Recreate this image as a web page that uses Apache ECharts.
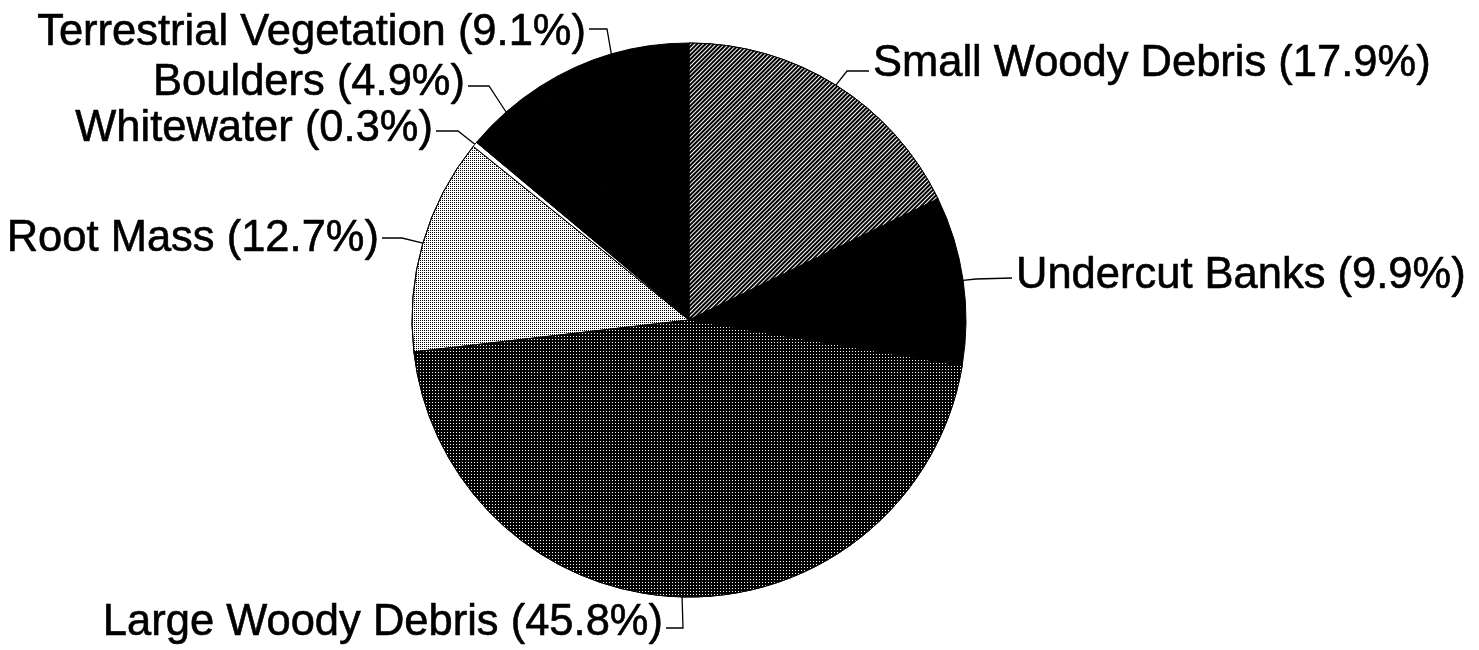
<!DOCTYPE html>
<html>
<head>
<meta charset="utf-8">
<script src="https://cdn.jsdelivr.net/npm/echarts@6/dist/echarts.min.js"></script>
<style>
html,body{margin:0;padding:0;background:#fff;}
#chart{width:1479px;height:650px;}
</style>
</head>
<body>
<div id="chart"></div>
<script>
// ---- data ----
var categories = ['Small Woody Debris', 'Undercut Banks', 'Large Woody Debris', 'Root Mass', 'Whitewater', 'Boulders', 'Terrestrial Vegetation'];
var percents = [17.9, 9.9, 45.8, 12.7, 0.3, 4.9, 9.1];
var labelTexts = ['Small Woody Debris (17.9%)', 'Undercut Banks (9.9%)', 'Large Woody Debris (45.8%)', 'Root Mass (12.7%)', 'Whitewater (0.3%)', 'Boulders (4.9%)', 'Terrestrial Vegetation (9.1%)'];

// ---- styles / layout ----
var fills = [
  {color: '#000', decal: {symbol: 'rect', symbolSize: 1, color: '#ffffff', dashArrayX: [1, 0], dashArrayY: [1, 2], rotation: -Math.PI / 4}},
  {color: '#000'},
  {color: '#000', decal: {symbol: 'rect', symbolSize: 1, color: '#ffffff', dashArrayX: [1, 2], dashArrayY: [1, 2], rotation: 0}},
  {color: '#ffffff', decal: {symbol: 'rect', symbolSize: 1, color: '#000000', dashArrayX: [1, 1], dashArrayY: [1, 1], rotation: 0}},
  {color: '#ffffff'},
  {color: '#000'},
  {color: '#000'}
];
// label anchor (x, y, align) and leader line elbow / end points
var labelPlace = [
  {x: 873, y: 64, align: 'left', elbow: [847, 71], end: [869, 71]},
  {x: 1016, y: 276, align: 'left', elbow: [976, 279], end: [1012, 278]},
  {x: 663, y: 623, align: 'right', elbow: [683, 628], end: [666, 628]},
  {x: 379, y: 239, align: 'right', elbow: [402, 238], end: [382, 238]},
  {x: 433, y: 129, align: 'right', elbow: [458, 131], end: [436, 131]},
  {x: 465, y: 83, align: 'right', elbow: [489, 86], end: [468, 86]},
  {x: 586, y: 33, align: 'right', elbow: [607, 29], end: [589, 29]}
];

var seriesData = categories.map(function (c, i) {
  return {
    name: c,
    value: percents[i],
    itemStyle: Object.assign({borderColor: '#000', borderWidth: 1}, fills[i]),
    label: {formatter: labelTexts[i]}
  };
});

var chart = echarts.init(document.getElementById('chart'), null, {renderer: 'canvas'});
chart.setOption({
  animation: false,
  backgroundColor: '#ffffff',
  series: [{
    type: 'pie',
    center: [689, 320],
    radius: [0, 277],
    startAngle: 90,
    clockwise: true,
    avoidLabelOverlap: false,
    data: seriesData,
    label: {
      show: true,
      position: 'outside',
      color: '#000',
      fontFamily: '"Liberation Sans", Arial, sans-serif',
      fontSize: 43.5,
      lineHeight: 45,
      textBorderColor: '#000',
      textBorderWidth: 0.6
    },
    labelLine: {
      show: true,
      length: 10,
      length2: 10,
      smooth: false,
      lineStyle: {color: '#000', width: 1.3}
    },
    labelLayout: function (params) {
      var p = labelPlace[params.dataIndex];
      var edge = params.labelLinePoints ? params.labelLinePoints[0] : p.elbow;
      return {
        x: p.x,
        y: p.y,
        align: p.align,
        verticalAlign: 'middle',
        labelLinePoints: [edge, p.elbow, p.end]
      };
    },
    emphasis: {disabled: true}
  }]
});
</script>
</body>
</html>
